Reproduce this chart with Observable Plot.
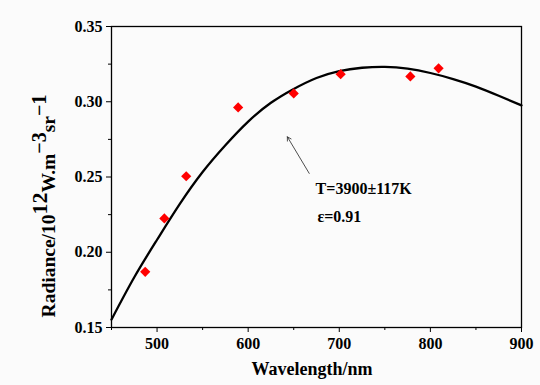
<!DOCTYPE html>
<html><head><meta charset="utf-8">
<script src="https://cdn.jsdelivr.net/npm/d3@7"></script>
<script src="https://cdn.jsdelivr.net/npm/@observablehq/plot@0.6"></script>
<style>body{margin:0;background:#fbfbfb;} </style>
</head><body>
<div id="chart"></div>
<script>
// measured points
const wavelength = [487, 508, 532, 589, 650, 701.5, 778, 809];
const radiance   = [0.187, 0.2225, 0.2505, 0.2962, 0.3055, 0.3183, 0.3168, 0.3222];
// fitted curve
const curveX = [450, 475, 500, 525, 550, 575, 600, 625, 650, 675, 700, 725, 750, 775, 800, 825, 850, 875, 900];
const curveY = [0.1553, 0.1834, 0.2083, 0.2321, 0.2533, 0.2711, 0.2868, 0.2993, 0.3085, 0.3158, 0.3204, 0.3226, 0.3232, 0.3220, 0.3191, 0.3151, 0.3101, 0.3040, 0.2976];
const xMajor = [500, 600, 700, 800, 900];
const xMinor = [450, 550, 650, 750, 850];
const yMajor = [0.15, 0.20, 0.25, 0.30, 0.35];
const yMinor = [0.175, 0.225, 0.275, 0.325];
const annotLines = ["T=3900±117K", "ε=0.91"];
const arrow = [{x1: 667, y1: 0.2524, x2: 643, y2: 0.2767}];

const pts = wavelength.map((x, i) => ({x, y: radiance[i]}));
const crv = curveX.map((x, i) => ({x, y: curveY[i]}));

const font = "'Liberation Serif', 'Times New Roman', serif";
const plot = Plot.plot({
  width: 540, height: 385,
  marginLeft: 111, marginRight: 19, marginTop: 26, marginBottom: 58,
  style: {fontFamily: font, fontWeight: "bold", fontSize: "16px", background: "#fbfbfb", color: "black"},
  x: {domain: [450, 900]},
  y: {domain: [0.15, 0.35]},
  marks: [
    Plot.axisX({ticks: xMajor, tickSize: 5, tickPadding: 5, label: null, fontSize: 16}),
    Plot.axisX({ticks: xMinor, tickSize: 3, tickFormat: () => "", label: null}),
    Plot.axisY({ticks: yMajor, tickSize: 5, tickPadding: 4, tickFormat: d3.format(".2f"), label: null, fontSize: 16}),
    Plot.axisY({ticks: yMinor, tickSize: 3, tickFormat: () => "", label: null}),
    Plot.frame({stroke: "black", strokeWidth: 1.3}),
    Plot.line(crv, {x: "x", y: "y", stroke: "black", strokeWidth: 2.3, curve: "natural"}),
    Plot.dot(pts, {x: "x", y: "y", symbol: "diamond2", r: 4.6, fill: "#ff0000", stroke: "none"}),
    Plot.arrow(arrow, {x1: "x1", y1: "y1", x2: "x2", y2: "y2", stroke: "#222", strokeWidth: 0.8, headLength: 8}),
    Plot.text([annotLines[0]], {x: 674, y: 0.2386, text: d => d, textAnchor: "start", lineAnchor: "bottom", fontSize: 16, fontWeight: "bold", fill: "black"}),
    Plot.text([annotLines[1]], {x: 676, y: 0.2203, text: d => d, textAnchor: "start", lineAnchor: "bottom", fontSize: 16, fontWeight: "bold", fill: "black"})
  ]
});
document.getElementById("chart").append(plot);

const svg = d3.select(plot);
// x axis label
svg.append("text").attr("x", 312).attr("y", 375).attr("text-anchor", "middle")
  .attr("font-family", font).attr("font-weight", "bold").attr("font-size", 18)
  .attr("fill", "black").text("Wavelength/nm");
// y axis label with superscripts
const yl = svg.append("text").attr("transform", "translate(55,206) rotate(-90)")
  .attr("text-anchor", "middle").attr("font-family", font).attr("font-weight", "bold")
  .attr("font-size", 19.5).attr("fill", "black");
yl.append("tspan").text("Radiance/10");
yl.append("tspan").attr("dy", -8).attr("font-size", 22).text("12");
yl.append("tspan").attr("dy", 8).text("W.m");
yl.append("tspan").attr("dy", -9).attr("font-size", 20).text("−3");
yl.append("tspan").attr("dy", 9).text("sr");
yl.append("tspan").attr("dy", -9).attr("font-size", 20).text("−1");
</script>
</body></html>
